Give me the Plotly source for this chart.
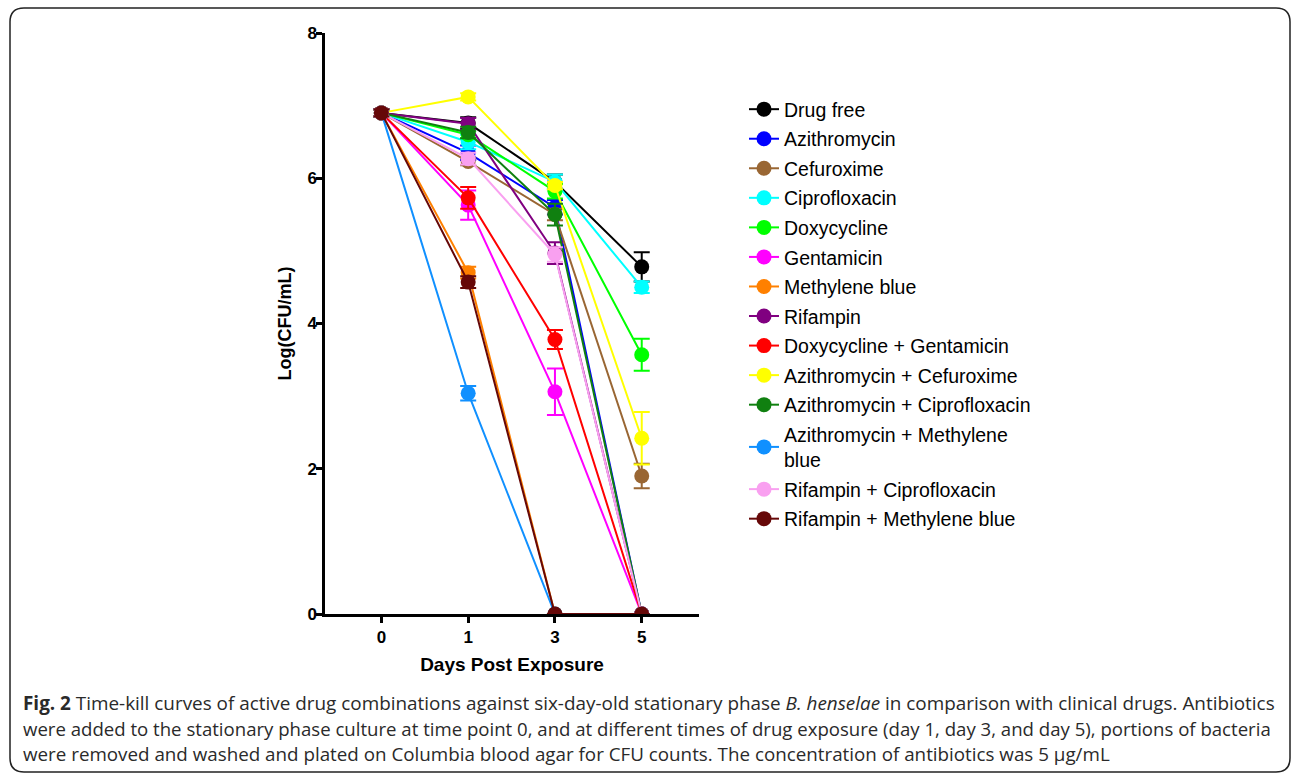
import plotly.graph_objects as go

days = ["0", "1", "3", "5"]
xpos = [0, 1, 2, 3]

names = ["Drug free", "Azithromycin", "Cefuroxime", "Ciprofloxacin", "Doxycycline",
         "Gentamicin", "Methylene blue", "Rifampin", "Doxycycline + Gentamicin",
         "Azithromycin + Cefuroxime", "Azithromycin + Ciprofloxacin",
         "Azithromycin + Methylene<br>blue", "Rifampin + Ciprofloxacin",
         "Rifampin + Methylene blue"]

drug_free = [6.9, 6.76, 5.95, 4.78]
azithromycin = [6.9, 6.35, 5.6, 0]
cefuroxime = [6.9, 6.23, 5.5, 1.9]
ciprofloxacin = [6.9, 6.5, 5.95, 4.5]
doxycycline = [6.9, 6.6, 5.82, 3.57]
gentamicin = [6.9, 5.63, 3.06, 0]
methylene_blue = [6.9, 4.7, 0, 0]
rifampin = [6.9, 6.75, 4.97, 0]
doxy_gent = [6.9, 5.73, 3.78, 0]
azi_cef = [6.9, 7.12, 5.9, 2.42]
azi_cipro = [6.9, 6.63, 5.5, 0]
azi_mb = [6.9, 3.04, 0, 0]
rif_cipro = [6.9, 6.27, 4.95, 0]
rif_mb = [6.9, 4.57, 0, 0]

err_drug_free = [0.05, 0.08, 0.1, 0.2]
err_azithromycin = [0.05, 0.1, 0.1, 0]
err_cefuroxime = [0.05, 0.05, 0.08, 0.17]
err_ciprofloxacin = [0.05, 0.1, 0.1, 0.08]
err_doxycycline = [0.05, 0.05, 0.1, 0.22]
err_gentamicin = [0.05, 0.2, 0.32, 0]
err_methylene_blue = [0.05, 0.08, 0, 0]
err_rifampin = [0.05, 0.08, 0.15, 0]
err_doxy_gent = [0.05, 0.15, 0.13, 0]
err_azi_cef = [0.05, 0.05, 0.05, 0.36]
err_azi_cipro = [0.05, 0.08, 0.15, 0]
err_azi_mb = [0.05, 0.1, 0, 0]
err_rif_cipro = [0.05, 0.08, 0.1, 0]
err_rif_mb = [0.05, 0.08, 0, 0]

series = [drug_free, azithromycin, cefuroxime, ciprofloxacin, doxycycline, gentamicin,
          methylene_blue, rifampin, doxy_gent, azi_cef, azi_cipro, azi_mb, rif_cipro, rif_mb]
errors = [err_drug_free, err_azithromycin, err_cefuroxime, err_ciprofloxacin, err_doxycycline,
          err_gentamicin, err_methylene_blue, err_rifampin, err_doxy_gent, err_azi_cef,
          err_azi_cipro, err_azi_mb, err_rif_cipro, err_rif_mb]
colors = ["#000000", "#0000FF", "#996633", "#00FFFF", "#00FF00", "#FF00FF", "#FF8000",
          "#800080", "#FF0000", "#FFFF00", "#108010", "#1090FF", "#F9A0F0", "#660808"]

W, H = 1293, 776
fig = go.Figure()
for n, s, e, c in zip(names, series, errors, colors):
    fig.add_trace(go.Scatter(
        x=xpos, y=s, name=n, legendgroup=n, mode="lines+markers",
        line=dict(color=c, width=2),
        marker=dict(color=c, size=15, symbol="circle"),
        error_y=dict(type="data", array=e, visible=True, color=c, thickness=2, width=8),
    ))

axis_font = dict(family="Liberation Sans, Arial", size=17, color="#000")
fig.update_layout(
    width=W, height=H,
    margin=dict(l=0, r=0, t=0, b=0, autoexpand=False),
    paper_bgcolor="white", plot_bgcolor="white",
    xaxis=dict(domain=[325 / W, 699 / W], range=[-0.65, 3.66], automargin=False,
               tickvals=xpos, ticktext=["<b>%s</b>" % d for d in days],
               showline=True, linecolor="black", linewidth=2.5,
               ticks="outside", ticklen=6, tickwidth=2.5, tickcolor="black",
               showgrid=False, zeroline=False, tickfont=axis_font,
               title=dict(text="<b>Days Post Exposure</b>", font=dict(family="Liberation Sans, Arial", size=19, color="#000"), standoff=12)),
    yaxis=dict(domain=[1 - 614 / H, 1 - 33 / H], range=[0, 8], automargin=False,
               tickvals=[0, 2, 4, 6, 8], ticktext=["<b>%d</b>" % v for v in [0, 2, 4, 6, 8]],
               showline=True, linecolor="black", linewidth=2.5,
               ticks="outside", ticklen=6, tickwidth=2.5, tickcolor="black",
               ticklabelstandoff=-4,
               showgrid=False, zeroline=False, tickfont=axis_font,
               title=dict(text="<b>Log(CFU/mL)</b>", font=dict(family="Liberation Sans, Arial", size=18, color="#000"), standoff=12)),
    legend=dict(x=744 / W, y=1 - 90 / H, xanchor="left", yanchor="top",
                font=dict(family="Liberation Sans, Arial", size=19.5, color="#000"),
                bgcolor="rgba(0,0,0,0)", itemwidth=30, tracegroupgap=1.2),
    showlegend=True,
)

# rounded frame
x0, y0, x1, y1, r = 10, 8, 1290, 772, 14
def px(x):
    return x / W
def py(y):
    return 1 - y / H
path = (f"M {px(x0 + r)},{py(y0)} L {px(x1 - r)},{py(y0)} Q {px(x1)},{py(y0)} {px(x1)},{py(y0 + r)} "
        f"L {px(x1)},{py(y1 - r)} Q {px(x1)},{py(y1)} {px(x1 - r)},{py(y1)} "
        f"L {px(x0 + r)},{py(y1)} Q {px(x0)},{py(y1)} {px(x0)},{py(y1 - r)} "
        f"L {px(x0)},{py(y0 + r)} Q {px(x0)},{py(y0)} {px(x0 + r)},{py(y0)} Z")
fig.add_shape(type="path", path=path, xref="paper", yref="paper",
              line=dict(color="#222", width=1.5))

caption = [
    "<b>Fig. 2</b> Time-kill curves of active drug combinations against six-day-old stationary phase <i>B. henselae</i> in comparison with clinical drugs. Antibiotics",
    "were added to the stationary phase culture at time point 0, and at different times of drug exposure (day 1, day 3, and day 5), portions of bacteria",
    "were removed and washed and plated on Columbia blood agar for CFU counts. The concentration of antibiotics was 5 μg/mL",
]
caption_sizes = [18.9, 18.6, 18.8]
for i, (t, fs) in enumerate(zip(caption, caption_sizes)):
    fig.add_annotation(text=t, xref="paper", yref="paper", x=21 / W, y=1 - (703 + 25.5 * i) / H,
                       xanchor="left", yanchor="middle", showarrow=False, align="left",
                       font=dict(family="Open Sans", size=fs, color="#2a2a2a"))

fig.write_html("out.html", config={"displayModeBar": False},
               post_script="document.body.style.margin='0';document.body.style.overflow='hidden';")
